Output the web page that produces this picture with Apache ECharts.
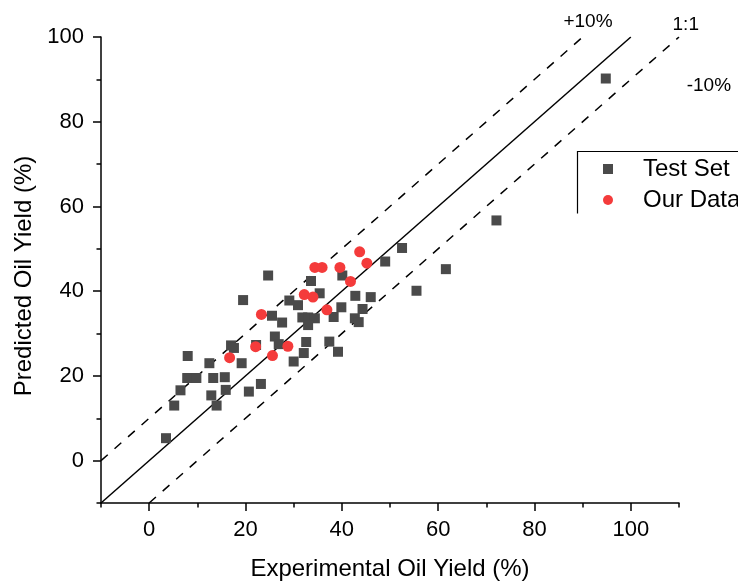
<!DOCTYPE html>
<html>
<head>
<meta charset="utf-8">
<script src="https://cdn.jsdelivr.net/npm/echarts@6/dist/echarts.min.js"></script>
<style>
  html, body { margin: 0; padding: 0; background: #ffffff; }
  #chart { width: 738px; height: 584px; }
</style>
</head>
<body>
<div id="chart"></div>
<script>
// Experimental vs predicted oil yield (%), test set and our own samples
const testSet = [
  [94.8, 90.2], [72.1, 56.7], [52.5, 50.2], [49.0, 47.0], [61.6, 45.2], [55.5, 40.1],
  [24.7, 43.7], [33.6, 42.4], [40.1, 43.7], [35.4, 39.5], [42.8, 38.9], [46.0, 38.6],
  [29.1, 37.8], [30.9, 36.7], [39.9, 36.2], [44.3, 35.8], [25.5, 34.2], [27.6, 32.6],
  [31.8, 33.8], [33.0, 33.8], [34.4, 33.6], [33.0, 32.0], [38.3, 33.9], [42.7, 33.6],
  [43.5, 32.7], [26.1, 29.3], [26.9, 27.5], [32.6, 28.0], [37.4, 28.1], [32.1, 25.4],
  [39.2, 25.7], [30.0, 23.4], [19.5, 37.9], [17.0, 27.2], [17.6, 26.6], [22.2, 27.3],
  [8.0, 24.7], [12.5, 23.0], [19.2, 23.0], [7.9, 19.5], [9.8, 19.5], [13.3, 19.5],
  [15.7, 19.7], [6.5, 16.6], [15.9, 16.7], [12.9, 15.4], [20.7, 16.3], [23.2, 18.1],
  [5.2, 13.0], [14.0, 13.0], [3.5, 5.3]
];
const ourData = [
  [16.7, 24.3], [22.1, 26.9], [23.3, 34.5], [25.6, 24.8], [28.8, 27.0], [32.2, 39.2],
  [34.0, 38.6], [34.4, 45.6], [35.9, 45.6], [39.6, 45.6], [41.8, 42.3], [43.7, 49.3],
  [45.2, 46.6], [36.9, 35.6]
];

// Reference lines: parity and ±10 percentage points
const parityLine = [[-10, -10], [100, 100]];
const plusTenLine = [[-10, 0], [90, 100]];
const minusTenLine = [[0, -10], [110, 100]];

// Axis ranges and ticks
const xRange = [-10, 110];
const yRange = [-10, 100];
const xMajorTicks = [0, 20, 40, 60, 80, 100];
const xMinorTicks = [-10, 10, 30, 50, 70, 90, 110];
const yMajorTicks = [0, 20, 40, 60, 80, 100];
const yMinorTicks = [-10, 10, 30, 50, 70, 90];

const FONT = '"Liberation Sans", Arial, Helvetica, sans-serif';
const AXIS_COLOR = '#000000';

const chart = echarts.init(document.getElementById('chart'), null, { renderer: 'canvas' });

function majorAxis(range, ticks, extra) {
  return Object.assign({
    type: 'value',
    min: range[0],
    max: range[1],
    interval: 10,
    axisLine: { show: true, onZero: false, lineStyle: { color: AXIS_COLOR, width: 1.5 } },
    axisTick: { show: true, inside: false, length: 8, customValues: ticks,
                lineStyle: { color: AXIS_COLOR, width: 1.5 } },
    splitLine: { show: false }
  }, extra);
}

function minorAxis(range, ticks, position) {
  return {
    type: 'value',
    position: position,
    min: range[0],
    max: range[1],
    interval: 10,
    axisLine: { show: false, onZero: false },
    axisTick: { show: true, inside: false, length: 4.5, customValues: ticks,
                lineStyle: { color: AXIS_COLOR, width: 1.5 } },
    axisLabel: { show: false },
    splitLine: { show: false }
  };
}

const option = {
  backgroundColor: '#ffffff',
  animation: false,
  grid: { left: 101, right: 59, top: 37, bottom: 81, containLabel: false, outerBoundsMode: 'none' },
  xAxis: [
    majorAxis(xRange, xMajorTicks, {
      position: 'bottom',
      name: 'Experimental Oil Yield (%)',
      nameLocation: 'middle',
      nameGap: 54,
      nameTextStyle: { color: '#000', fontSize: 24, fontFamily: FONT },
      axisLabel: { show: true, customValues: xMajorTicks, color: '#000', fontSize: 22,
                   fontFamily: FONT, margin: 16 }
    }),
    minorAxis(xRange, xMinorTicks, 'bottom')
  ],
  yAxis: [
    majorAxis(yRange, yMajorTicks, {
      position: 'left',
      name: 'Predicted Oil Yield (%)',
      nameLocation: 'middle',
      nameGap: 61,
      nameTextStyle: { color: '#000', fontSize: 24, fontFamily: FONT, padding: [0, 12, 0, 0] },
      axisLabel: { show: true, customValues: yMajorTicks, color: '#000', fontSize: 22,
                   fontFamily: FONT, margin: 17 }
    }),
    minorAxis(yRange, yMinorTicks, 'left')
  ],
  legend: {
    orient: 'vertical',
    left: 577,
    top: 151,
    padding: [6, 0, 5, 26],
    itemWidth: 10,
    itemHeight: 10,
    itemGap: 7,
    data: ['Test Set', 'Our Data'],
    textStyle: { color: '#000', fontSize: 24, lineHeight: 22, fontFamily: FONT, padding: [0, 0, 0, 25] },
    backgroundColor: 'transparent',
    borderWidth: 0
  },
  series: [
    {
      name: 'parity', type: 'line', data: parityLine, symbol: 'none', silent: true,
      lineStyle: { color: '#000', width: 1.5, type: 'solid' }, z: 1
    },
    {
      name: '+10%', type: 'line', data: plusTenLine, symbol: 'none', silent: true,
      lineStyle: { color: '#000', width: 1.5, type: [9, 9] }, z: 1
    },
    {
      name: '-10%', type: 'line', data: minusTenLine, symbol: 'none', silent: true,
      lineStyle: { color: '#000', width: 1.5, type: [9, 9] }, z: 1
    },
    {
      name: 'Test Set', type: 'scatter', data: testSet, symbol: 'rect', symbolSize: 10,
      itemStyle: { color: '#4a4a4a', opacity: 1 }, z: 3
    },
    {
      name: 'Our Data', type: 'scatter', data: ourData, symbol: 'circle', symbolSize: 11,
      itemStyle: { color: '#f43b3b', opacity: 1 }, z: 4
    }
  ]
};

chart.setOption(option);

// Line annotations placed in data space, plus the legend frame (left and top edges)
function annotation(text, x, y) {
  const p = chart.convertToPixel({ xAxisIndex: 0, yAxisIndex: 0 }, [x, y]);
  return {
    type: 'text', x: p[0], y: p[1], silent: true, z: 10,
    style: { text: text, fill: '#000', font: '19px ' + FONT,
             textAlign: 'center', textVerticalAlign: 'middle' }
  };
}

chart.setOption({
  graphic: [
    annotation('+10%', 91.1, 103.5),
    annotation('1:1', 111.4, 102.8),
    annotation('-10%', 116.2, 88.4),
    {
      type: 'polyline', silent: true, z: 10,
      shape: { points: [[577.5, 213.5], [577.5, 151.5], [740, 151.5]] },
      style: { stroke: '#000', lineWidth: 1.2, fill: null }
    }
  ]
});
</script>
</body>
</html>
